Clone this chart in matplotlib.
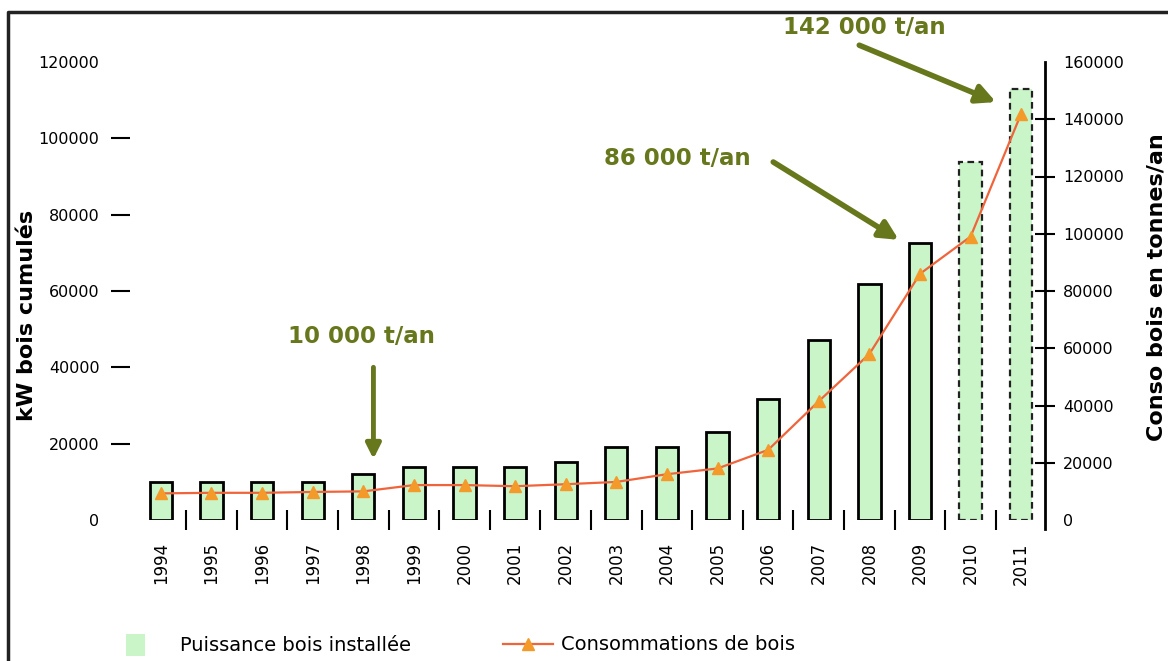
import matplotlib
matplotlib.use("Agg")
import matplotlib.pyplot as plt
from matplotlib.lines import Line2D
from matplotlib.patches import Patch

years = ["1994", "1995", "1996", "1997", "1998", "1999", "2000", "2001", "2002",
         "2003", "2004", "2005", "2006", "2007", "2008", "2009", "2010", "2011"]
puissance_kw = [10000, 10000, 10000, 10000, 12000, 14000, 14000, 13800, 15300,
                19200, 19200, 23100, 31700, 47200, 61800, 72700, 93700, 112800]
conso_t = [9300, 9500, 9500, 9800, 10000, 12200, 12200, 11800, 12500,
           13300, 16000, 18000, 24500, 41500, 58000, 86000, 99000, 142000]
left_ticks = [0, 20000, 40000, 60000, 80000, 100000, 120000]
right_ticks = [0, 20000, 40000, 60000, 80000, 100000, 120000, 140000, 160000]

green = "#c9f5c9"
olive = "#66771c"
line_col = "#f0643c"
mark_col = "#f39a2a"
x = list(range(len(years)))

fig = plt.figure(figsize=(11.68, 6.61), dpi=100)
ax = fig.add_axes([130/1168, 141/661, 915/1168, 458/661])

# bars, the last two (estimates) with dashed outline
for i in x:
    dashed = i >= len(years) - 2
    ax.bar(i, puissance_kw[i], width=0.44, color=green,
           edgecolor="#222222" if dashed else "black",
           linewidth=1.6 if dashed else 2,
           linestyle=(0, (3, 2)) if dashed else "-", zorder=2)

ax.set_xlim(-0.61, 17.47)
ax.set_ylim(0, 120000)
ax.set_yticks(left_ticks)
ax.set_yticklabels([str(v) for v in left_ticks], fontsize=11.5)
ax.tick_params(axis="y", which="major", length=0, pad=22)
ax.yaxis.remove_overlapping_locs = False
ax.set_yticks(left_ticks[1:-1], minor=True)
ax.tick_params(axis="y", which="minor", length=14, width=1.5, direction="out")
ax.set_xticks(x)
ax.set_xticklabels(years, rotation=90, fontsize=12)
ax.tick_params(axis="x", which="major", length=0, pad=16)
ax.set_xticks([i + 0.5 for i in x[:-1]], minor=True)
ax.tick_params(axis="x", which="minor", length=15, width=1.5, direction="inout")
for s in ["top", "left", "bottom", "right"]:
    ax.spines[s].set_visible(False)

ax2 = ax.twinx()
ax2.plot(x, conso_t, color=line_col, linewidth=1.6, marker="^",
         markersize=9, markerfacecolor=mark_col, markeredgecolor=mark_col, zorder=3)
ax2.set_ylim(0, 160000)
ax2.set_yticks(right_ticks)
ax2.set_yticklabels([str(v) for v in right_ticks], fontsize=11.5)
ax2.tick_params(axis="y", which="major", length=0, pad=13)
ax2.yaxis.remove_overlapping_locs = False
ax2.set_yticks(right_ticks[1:-1], minor=True)
ax2.tick_params(axis="y", which="minor", length=14, width=1.5, direction="inout")
for s in ["top", "left", "bottom"]:
    ax2.spines[s].set_visible(False)
ax2.spines["right"].set_linewidth(2)
ax2.spines["right"].set_bounds(-3000, 160000)

fig.text(27/1168, 1 - 315/661, "kW bois cumulés", rotation=90, fontsize=16,
         fontweight="bold", ha="center", va="center")
fig.text(1156/1168, 1 - 287/661, "Conso bois en tonnes/an", rotation=90,
         fontsize=16, fontweight="bold", ha="center", va="center")

# annotations
arrow = dict(arrowstyle="-|>", color=olive, lw=4, mutation_scale=28, shrinkA=0, shrinkB=0)
arrow_v = dict(arrowstyle="-|>", color=olive, lw=3.5, mutation_scale=22, shrinkA=0, shrinkB=0)
ax.annotate("", xy=(4.2, 16000), xytext=(4.2, 40000), arrowprops=arrow_v, annotation_clip=False)
ax.text(3.97, 48200, "10 000 t/an", color=olive, fontsize=16.5, fontweight="bold",
        ha="center", va="center")
ax.annotate("", xy=(14.58, 73400), xytext=(12.1, 93800), arrowprops=arrow, annotation_clip=False)
ax.text(10.2, 94800, "86 000 t/an", color=olive, fontsize=16.5, fontweight="bold",
        ha="center", va="center")
ax.annotate("", xy=(16.5, 109500), xytext=(13.8, 124400), arrowprops=arrow, annotation_clip=False)
ax.text(13.9, 129000, "142 000 t/an", color=olive, fontsize=16.5, fontweight="bold",
        ha="center", va="center", clip_on=False)

# legend, two parts so each handle keeps its own length
fig.legend([Patch(facecolor=green, edgecolor="none")], ["Puissance bois installée"],
           loc="center left", bbox_to_anchor=(108/1168, 1 - 645/661),
           frameon=False, fontsize=14, handlelength=1.0, handleheight=1.4,
           handletextpad=1.8)
fig.legend([Line2D([], [], color=line_col, lw=1.6, marker="^", markersize=9,
                   markerfacecolor=mark_col, markeredgecolor=mark_col)],
           ["Consommations de bois"],
           loc="center left", bbox_to_anchor=(485/1168, 1 - 645/661),
           frameon=False, fontsize=14, handlelength=2.6, handletextpad=0.4)

fig.add_artist(Line2D([8/1168, 8/1168, 1.0], [0.0, 1 - 12/661, 1 - 12/661],
                      color="#222222", lw=2.5, transform=fig.transFigure))

fig.savefig("out.png", dpi=100)
